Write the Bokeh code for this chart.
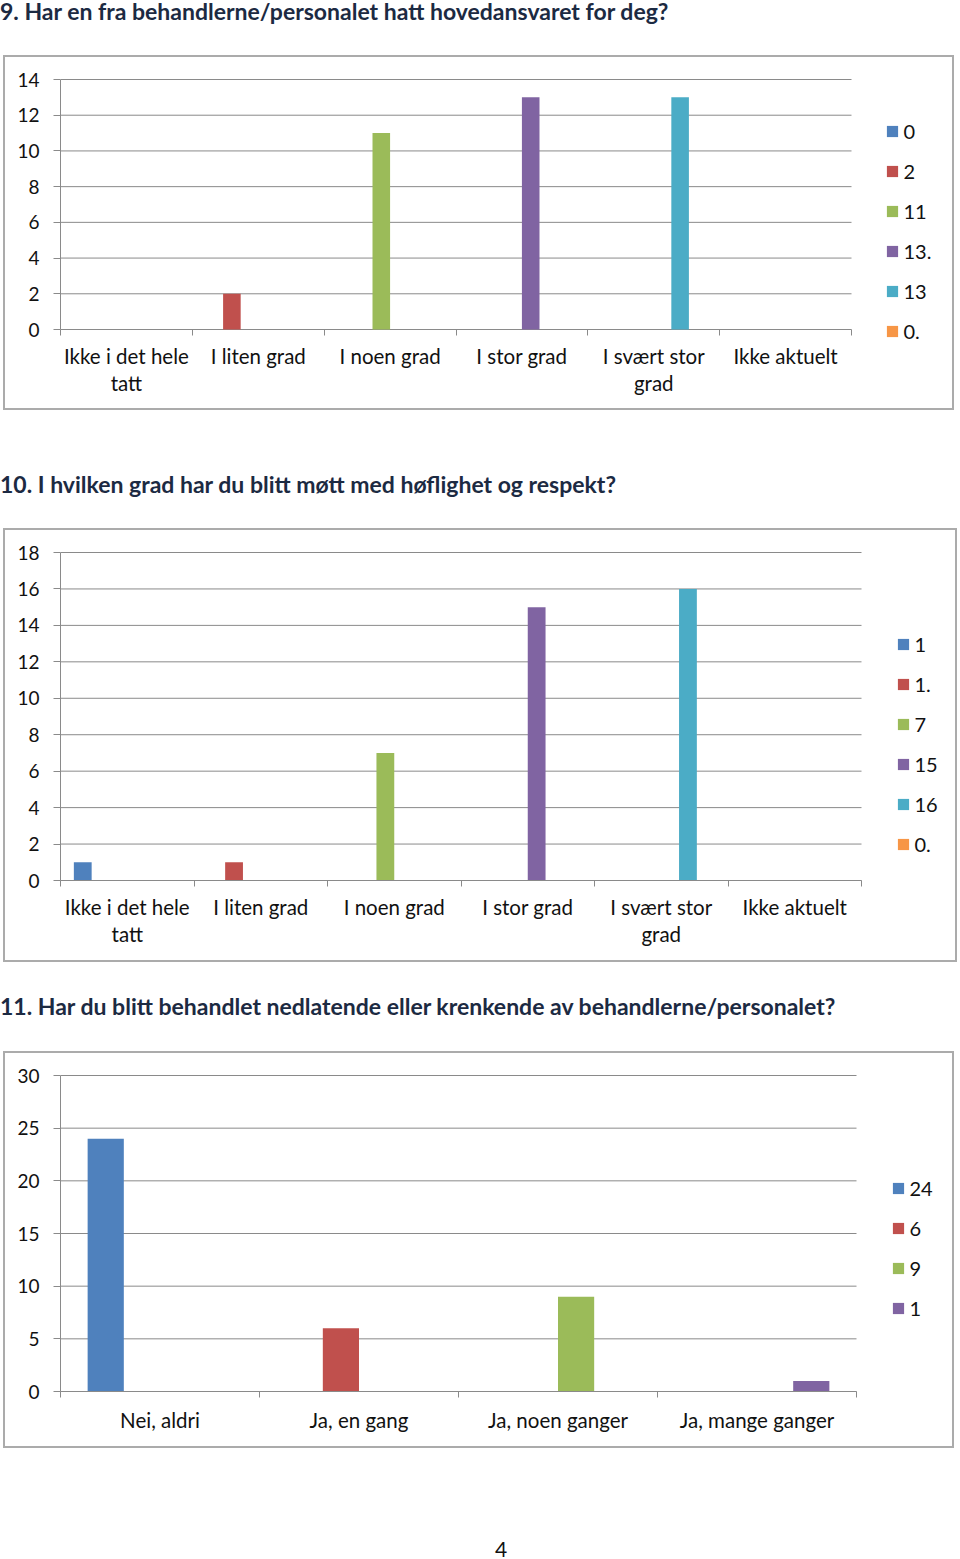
from bokeh.plotting import figure
from bokeh.models import Range1d, FixedTicker, Div, Legend, LegendItem
from bokeh.layouts import column
from bokeh.embed import file_html
from bokeh.resources import INLINE

# ---- data ----
q9_title = "9. Har en fra behandlerne/personalet hatt hovedansvaret for deg?"
q9_categories = ["Ikke i det hele\ntatt", "I liten grad", "I noen grad", "I stor grad",
                 "I svært stor\ngrad", "Ikke aktuelt"]
q9_series = ["0", "2", "11", "13.", "13", "0."]
q9_values = [0, 2, 11, 13, 13, 0]
q9_yticks = [0, 2, 4, 6, 8, 10, 12, 14]

q10_title = "10. I hvilken grad har du blitt møtt med høflighet og respekt?"
q10_categories = ["Ikke i det hele\ntatt", "I liten grad", "I noen grad", "I stor grad",
                  "I svært stor\ngrad", "Ikke aktuelt"]
q10_series = ["1", "1.", "7", "15", "16", "0."]
q10_values = [1, 1, 7, 15, 16, 0]
q10_yticks = [0, 2, 4, 6, 8, 10, 12, 14, 16, 18]

q11_title = "11. Har du blitt behandlet nedlatende eller krenkende av behandlerne/personalet?"
q11_categories = ["Nei, aldri", "Ja, en gang", "Ja, noen ganger", "Ja, mange ganger"]
q11_series = ["24", "6", "9", "1"]
q11_values = [24, 6, 9, 1]
q11_yticks = [0, 5, 10, 15, 20, 25, 30]

page_number = "4"

COLORS = ["#4F81BD", "#C0504D", "#9BBB59", "#8064A2", "#4BACC6", "#F79646"]
GRAY = "#8a8a8a"
BOX = "#ababab"
TEXT = "#111111"
FONT = "Lato"
TITLE_COLOR = "#1c2a42"

ITEM_H = 24      # legend row height
ITEM_GAP = 16    # legend gap between rows
GLYPH = 14       # legend glyph box (swatch drawn at 80%)


def make_chart(categories, series, values, yticks, box, ytop_px, y0_px, x0_px, xn_px, leg_px,
               label_shift=0):
    """box = (left, top, width, height) of the bordered chart area on the page (px).
    ytop_px / y0_px: page y of the top tick and of zero; x0_px / xn_px: page x of the
    category span; leg_px = (left x of first legend swatch, y of first legend row centre)."""
    bx, by, W, H = box
    cx, cy = bx + 2, by + 2                      # canvas origin inside the 2px border
    n = len(categories)
    ymax = yticks[-1]
    leg_bottom = leg_px[1] + (n - 1) * (ITEM_H + ITEM_GAP) + ITEM_H / 2.0
    T = ytop_px - 2
    B = int(round(max(y0_px, leg_bottom + 2)))
    ext = B - y0_px                              # frame extension below zero line
    R = bx + W - 3
    upx = ymax / float(y0_px - ytop_px)
    y_start = -ext * upx
    y_end = ymax + (ytop_px - T) * upx
    x_end = n * (R - x0_px) / float(xn_px - x0_px)

    p = figure(width=W, height=H, x_range=Range1d(0, x_end), y_range=Range1d(y_start, y_end),
               output_backend="svg", toolbar_location=None,
               min_border_left=x0_px - cx, min_border_right=cx + W - R,
               min_border_top=T - cy, min_border_bottom=cy + H - B,
               outline_line_color=None, background_fill_color="white", border_fill_color="white",
               styles={"border": "2px solid " + BOX})

    # horizontal gridlines (and zero line) over the category span
    p.segment(x0=[0] * len(yticks), x1=[n] * len(yticks), y0=yticks, y1=yticks,
              line_color=GRAY, line_width=1)

    w = 1.0 / (n + 1.5)
    items = []
    for i in range(n):
        x = i + 0.5 + (i - (n - 1) / 2.0) * w
        r = p.vbar(x=[x], top=[values[i]], bottom=0, width=w, fill_color=COLORS[i], line_color=None)
        items.append(LegendItem(label=series[i], renderers=[r]))
    leg = Legend(items=items, location=(leg_px[0] - 1.5 - x0_px, B - leg_bottom),
                 glyph_width=GLYPH, glyph_height=GLYPH, label_height=ITEM_H, spacing=ITEM_GAP,
                 padding=0, margin=0, border_line_color=None, background_fill_alpha=0,
                 label_text_font=FONT, label_text_font_size="20px",
                 label_text_color=TEXT, label_standoff=5)
    p.add_layout(leg)

    xa = p.xaxis[0]
    xa.bounds = (0, n)
    xa.ticker = FixedTicker(ticks=[i + 0.5 for i in range(n)], minor_ticks=list(range(n + 1)))
    xa.major_label_overrides = {i + 0.5: categories[i] for i in range(n)}
    xa.major_tick_line_color = None
    xa.major_tick_out = 0
    xa.major_tick_in = 0
    # the axis sits at the frame bottom; ticks and labels are shifted up to the zero line
    xa.minor_tick_in = ext
    xa.minor_tick_out = 6 - ext
    xa.minor_tick_line_color = GRAY
    xa.axis_line_color = GRAY if ext == 0 else None
    xa.major_label_text_font = FONT
    xa.major_label_text_font_size = "20.5px"
    xa.major_label_text_color = TEXT
    xa.major_label_text_line_height = 1.14
    xa.major_label_standoff = 8 - ext + (6 if ext > 0 else 0) + label_shift

    ya = p.yaxis[0]
    ya.bounds = (0, ymax)
    ya.ticker = FixedTicker(ticks=yticks, minor_ticks=[])
    ya.minor_tick_line_color = None
    ya.major_tick_out = 7
    ya.major_tick_in = 0
    ya.major_tick_line_color = GRAY
    ya.axis_line_color = GRAY
    ya.major_label_text_font = FONT
    ya.major_label_text_font_size = "19px"
    ya.major_label_text_color = TEXT
    ya.major_label_standoff = 14

    p.xgrid.visible = False
    p.ygrid.visible = False
    p.margin = (0, 0, 0, bx)
    return p


def title_div(text, height, top):
    html = ('<div style="margin-top:%dpx;font-family:Lato;font-weight:bold;font-size:23px;'
            'line-height:22px;color:%s;white-space:nowrap">%s</div>') % (top, TITLE_COLOR, text)
    return Div(text=html, width=960, height=height, margin=0)


f1 = make_chart(q9_categories, q9_series, q9_values, q9_yticks,
                (3, 55, 951, 355), 79, 329, 60, 851, (886, 131))
f2 = make_chart(q10_categories, q10_series, q10_values, q10_yticks,
                (3, 528, 954, 434), 552, 880, 60, 861, (897, 644))
f3 = make_chart(q11_categories, q11_series, q11_values, q11_yticks,
                (3, 1051, 951, 397), 1075, 1391, 60, 856, (892, 1188), label_shift=2)

d1 = title_div(q9_title, 55, 0)
d2 = title_div(q10_title, 118, 63)
d3 = title_div(q11_title, 89, 33)
d4 = Div(text=('<div style="margin-top:90px;margin-left:495px;font-family:Lato;font-size:21px;'
               'line-height:22px;color:%s">%s</div>') % (TEXT, page_number),
         width=960, height=111, margin=0)

page = column(d1, f1, d2, f2, d3, f3, d4, spacing=0)

html = file_html(page, INLINE)
with open("out.html", "w") as fh:
    fh.write(html)
